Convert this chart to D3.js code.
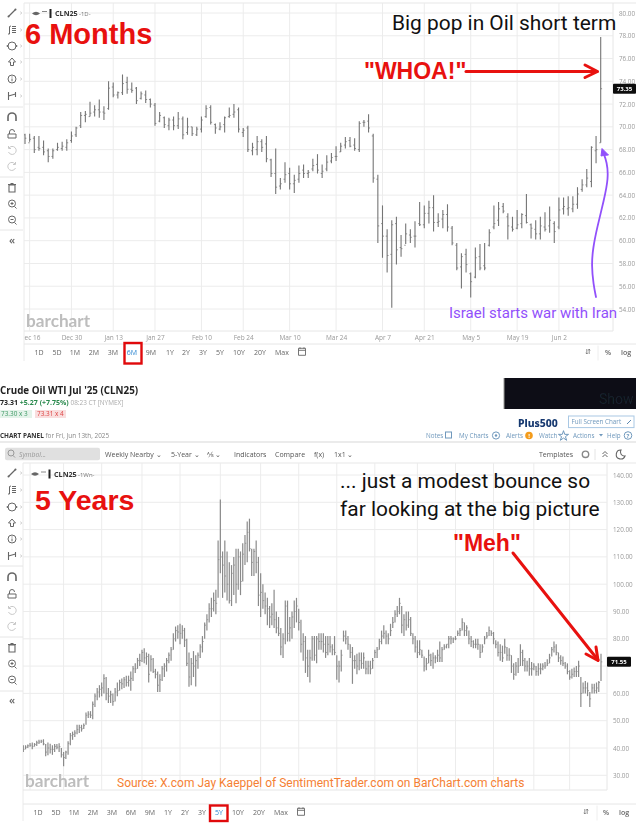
<!DOCTYPE html>
<html><head><meta charset="utf-8">
<script src="https://cdn.jsdelivr.net/npm/d3@7"></script>
<style>html,body{margin:0;padding:0;background:#fff}svg{display:block}text{white-space:pre}</style>
</head><body><svg id="c" width="636" height="825" viewBox="0 0 636 825"></svg>
<script>
// ---------- 6 month daily bars, CLN25 ----------
const highs6M=[69.4,69.4,69.2,69.2,68.8,68.1,68.1,68.6,68.7,68.9,
69.6,70,71.3,71.4,72.2,71.9,72.4,71.8,74,73.9,
73.1,74.6,74.4,73.9,73.5,73.1,73.2,72.5,72.1,71.3,
70.9,70.8,70.9,71.3,70.9,70.8,70,70,70.9,71.9,
71.9,70.3,70.4,70.9,71.7,72,71.7,69.9,70.1,68.6,
69.2,68.9,69.2,67.2,68.1,65.5,66.9,66.4,65.8,66.6,
66.7,66.2,67.2,67.6,66.7,67.5,67.7,68.3,68.6,69.1,
69.1,69,70.5,70.6,71.1,69.4,65.8,63.1,61,61.8,
62.1,60.5,61.5,61,61.7,63.4,63.1,63.5,64,62.4,
62.7,63.2,61.3,59.8,58.9,59.3,57.2,59.4,59.7,59.8,
61,63.1,63.4,63.3,62.4,62.1,62.7,62.4,64.1,61.5,
61.8,62.1,62.5,63,61.7,63.8,63.8,63.9,63.9,64.7,
65.4,66.3,68.3,69.2,77.9];
const lows6M=[68.5,68.7,67.7,67.9,67.5,66.9,67.2,67.9,67.9,67.9,
68.6,69.1,69.9,70.4,70.9,70.9,70.8,70.6,71.5,72.6,
72.5,72.8,72.9,73,72,72.4,72.1,71.7,70.1,70.4,
69.9,69.7,69.7,69.8,68.9,69.3,69.2,69.2,69.5,70.8,
70.2,69.4,69.7,69.5,70.8,70.8,69.5,69.1,67.8,67.5,
67.5,67.8,66.9,65.6,64.1,64.5,65.1,64.5,64.2,65.1,
65.5,65.5,66.1,65.9,65.5,66.1,66.8,67,67.8,68.1,
68.2,67.9,67.8,70,69.5,65.1,59.8,58.5,57.2,54.1,
57.9,58.6,59.7,59.8,59.4,61.3,61.1,61.5,60.8,61.2,
61.1,60.8,59.6,57.4,55.8,57.2,55,56.7,57.4,57.4,
59.5,61,61.3,62.4,60.1,60.8,61,61.1,61.5,60.2,
60.1,60.1,60.8,60.7,59.8,61,62.3,62.2,62.5,62.8,
64.3,64.7,64.7,66.8,68.6];
const closes6M=[69,68.9,68,68.1,67.8,67.4,67.9,68.2,68.3,68.6,
69.2,69.9,71,71.1,71.2,71.5,71.3,71.2,73.4,72.8,
73,73.8,73.3,73.2,72.3,72.9,72.4,72,70.3,71,
70.2,70.6,70.1,70.7,69.3,70,69.4,69.8,70.6,71.6,
70.4,69.9,70,70.8,71,71.3,69.8,69.7,68,68.2,
68.7,68.2,67.2,65.9,64.7,65,65.8,65,65.3,65.9,
65.9,66,66.6,66.2,66.1,66.9,67.3,67.4,68.3,68.7,
68.3,68.1,70.3,70.4,69.9,65.5,61.3,60.4,58.7,61.4,
59.2,59.3,60.6,60.3,60.4,61.4,62.4,62.9,61.6,61.7,
62.3,61.2,59.8,57.6,58.6,57.9,56.4,58.5,57.6,57.6,
60.7,61.5,62.8,62.6,61.3,61,61.4,62.3,61.6,61.1,
60.6,61.3,61,61.8,60.8,62.7,63,62.9,63.2,64.1,
64.9,65.5,68.2,68,73.35];
const opens6M=[69.3,68.6,69,68.2,68.2,67.9,67.4,68,68.1,68.2,
68.8,69.3,70.1,71,70.9,71.3,71.5,71.3,71.6,73.5,
72.8,73,73.9,73.3,73.4,72.5,72.8,72.4,71.9,70.5,
70.8,70.1,70.6,70.1,70.7,69.5,70,69.3,69.8,70.9,
71.7,70.2,69.8,70.2,70.9,71.1,71.5,69.5,69.9,67.9,
68,68.7,68.5,67.1,65.9,64.8,65.4,65.9,65,65.4,
66.2,65.9,66.3,66.7,65.9,66.3,67,67.4,67.8,68.4,
68.8,68.4,68,70.4,70.5,69.2,65.4,61.5,60.4,58.8,
61.5,59.4,59.6,60.5,60.4,61.5,61.4,62.4,62.9,61.6,
61.9,62.3,61.1,59.6,57.7,58.8,57.1,56.8,58.6,57.8,
59.6,61.2,61.8,63,62.1,61.2,61.1,61.5,62.2,61.4,
61,60.6,61.2,61.3,61.5,61.2,62.8,62.8,62.8,63.2,
64.5,64.9,65.2,67.9,68.6];
const ticks6M=["Dec 16","Dec 30","Jan 13","Jan 27","Feb 10","Feb 24","Mar 10","Mar 24","Apr 7","Apr 21","May 5","May 19","Jun 2"];
const tickBars6M=[1,10,19,28,38,47,57,67,77,86,96,106,115];
const priceTicks6M=[80,78,76,74,72,70,68,66,64,62,60,58,56,54];

// ---------- 5 year weekly bars, CLN25 ----------
const highs5Y=[41,41,41.3,41.8,42,41.8,42.7,43,43,43.2,
41.5,42,41.6,41,41.5,41.5,41.7,40,38.5,39,
42.5,45.5,46,46.5,48.5,48.5,48.5,49,53,53.5,
53.5,57,60,62,63,64,67,66,62,61,
60,62,64,65,65.5,66,66.5,66.5,68,70,
71,73,74.5,76,76.5,75,74.5,74,73,69,
68,67,70,71,73,75,77,82,84.5,85,
85.5,85,84,80,75,73,75.5,74,75,78,
81,86,89,93,95,97,98,116,131,112,
116,112,108,107,110,113,113,112,115,118,
123,124,113,113,116,110,104,100,97,95,
92,93,98,90,88,84,82,94,94,88,
90,94,95,91,87,82,81,76,76,81,
81,81,82,
82,82,81,81,81,78,81,74,72,76,
83,83,81,78,77,74,74.5,75,75,75,
72,72,72,73,76,77,80,83,85,83,
82,85.5,88,90.5,92,95,92,89,90,90,
88,82,81,79.5,79.5,76,73.5,73,76,74.5,
75,74,76,79,77,78,78,81,81,80.5,
81,83,84,87.5,86,85,83,81,79.5,80,
80,78,78,81,82.5,84.5,83,82.5,79.5,79,
78,77.5,80,77,76.5,74,71,71.5,73,78,
76,73,72,73,71.5,71,70,71,71,71,
71.5,72.5,74.5,77,79,78,75,74,73.5,71.5,
71,68.5,69,69.5,70,72,66,64,64.5,64,
60.5,63.5,63.5,64,64.5,74.5];
const lows5Y=[38.5,39.5,40,40.5,39.5,40.5,40.7,41.5,41.8,41,
37,37.3,38,37.5,38.5,39.5,38.5,36.5,33.3,36,
37.5,41,43,44,45,45.5,46,47,48.5,51,
51,50.5,55,57.5,58.5,59,60,57.5,56.5,56.5,
55.5,57,59,61,61.5,62,62.5,62.5,61,64.5,
67.5,69,70,71.5,71,70.5,64,68,67.5,65.5,
60.5,60.5,64.5,66,68,71,72,76,79,80,
78,80,77,70,62.4,63,66,62.5,69,73,
75,80,83,86,88,90,89,95,104,95,
97,94,92.9,92,96,93,98,96,101,107,
108,112,103,103,104,92,88,91,89,85,
84,85,84,82,81,74,73,78,79,79,
80,84,86,83,75,72,67.5,66,64,72,
72,71,76,
76,75,73,74,75,74,74,65,64,68,
79,78,76,73,63.5,69,67,68.5,69,69,
67,67,67,69,73,73,76,78,80,78,
78,81,84,86,88,89,82,81,83,84,
81,78,75,73,74,73,68,68.5,71,70,
69,71,71.5,71.5,71.5,76,76.5,76.5,78,78.5,
79.5,81,81,83,81,81,78,77,76.5,76.5,
76,73,75,78,80,81,81,78,76.5,73.5,
72,71.5,74.5,72,72,67.5,65,66.5,67.5,70,
70,68,68,66.5,66.5,68.5,66.5,66.5,67,68.5,
69,70,71,73.5,75,74,71.5,70.5,70,69,
67,65,65.5,66,66,66,55,60,60,59,
55,60,60,60,60.5,64.5];
const closes5Y=[39.5,40.3,40.8,41,40.6,41.3,41.9,42.2,42.5,41.5,
38.5,40,39.5,39.5,40.6,40.3,40.5,37.5,36.5,38.5,
41.7,44.5,45,45.5,46.8,47.5,47,48.2,52,52.4,
52,56,59,60.5,61.5,62,65.5,60,59,59.5,
57,60.5,61,64,63.5,65,64,64.8,65.5,69,
69,72,72,75,73,73.5,67,72.5,68,67,
63,65,69,70,72,74,76,80,83,82.5,
82,83,79.5,71,66,71,70,72,74,77,
79,85,87,91,91,94,93,109,110,107,
103,100,94,104,107,100,110,101,111,115,
119,113,108,112,108,96,97,94,92,91,
88,89,87,84,82,77,80,92,82,84,
88,90,92,86,78,79,73,70,73,80,
74,80,79,
79,78,75,78,77,76,75,70,70,74,
81,80,78,75,72,72,70,72,71,73,
69,70,69,72,75,76,79,81,82,81,
80,83,86,89,90,93,85,87,85,87,
82,80,77,75,76,74,70,71,74,72,
73,73,74,73,76,77,78,80,80,80,
80,82,83,86,83,84,80,79,78,78,
78,75,77,80,81,83,82,80,78,75,
75,73,77,74,74,70,67,70,70,75,
72,70,70,69,69,70,68,69,69,70,
70,71,73,76,77,75,73,72,71,70,
68,66,67,68,68,70,60,62,62,61,
58,62,61,62,64,71.55];
const ticks5Y=["Jul '20","Nov '20","Mar '21","Jul '21","Nov '21","Mar '22","Jul '22","Nov '22","Mar '23","Jul '23","Nov '23","Mar '24","Jul '24","Nov '24","Mar '25"];
const tickBars5Y=[3,18,35,53,70,88,106,123,140,157,176,193,210,228,244];
const priceTicks5Y=[140,130,120,110,100,90,80,70,60,50,40,30];
const hiddenLabels5Y=[70]; // sits behind the last-price tag in the reference

const rangeLabels=["1D","5D","1M","2M","3M","6M","9M","1Y","2Y","3Y","5Y","10Y","20Y","Max"];

const svg=d3.select("#c");
const defs=svg.append("defs");
defs.append("filter").attr("id","soft")
  .attr("filterUnits","userSpaceOnUse").attr("x",0).attr("y",0).attr("width",636).attr("height",825)
  .append("feGaussianBlur").attr("stdDeviation",0.45);
const base=svg.append("g").attr("filter","url(#soft)");
const UI="'Open Sans',sans-serif", RB="Roboto,sans-serif", AR="'Liberation Sans',Arial,sans-serif";
const iconC="#666";

function txt(g,x,y,s,o={}){
  return g.append("text").attr("x",x).attr("y",y).text(s)
   .attr("font-family",o.f||UI).attr("font-size",o.s||7).attr("fill",o.c||"#555")
   .attr("font-weight",o.w||400).attr("font-style",o.i||"normal").attr("text-anchor",o.a||"start");
}

function toolbar(g,ys,seps,chev){
  seps.forEach(y=>g.append("line").attr("x1",0).attr("x2",23).attr("y1",y).attr("y2",y).attr("stroke","#e6e6e6"));
  const P=(p,o={})=>p.append("path").attr("fill",o.fill||"none").attr("stroke",o.c||iconC).attr("stroke-width",o.w||1);
  const kinds=["line","fib","shape","arrow","info","fork","magnet","lock","undo","redo","trash","zin","zout"];
  kinds.forEach((k,i)=>{
    const t=g.append("g").attr("transform",`translate(12,${ys[i]})`);
    if(k=="line"){P(t,{w:1.2}).attr("d","M-3.5,3.5L3.5,-3.5");t.append("circle").attr("cx",3.5).attr("cy",-3.5).attr("r",1).attr("fill",iconC);t.append("circle").attr("cx",-3.5).attr("cy",3.5).attr("r",1).attr("fill",iconC);}
    if(k=="fib"){P(t).attr("d","M-4,4L-2.5,4L-2.5,-3.5L-1,-4M0,-3.5H4M0,-1.5H4M0,0.5H4M0,2.5H4");}
    if(k=="shape"){P(t).attr("d","M-4,0A4,4 0 1,1 4,0A4,4 0 1,1 -4,0");t.append("circle").attr("cx",-4.5).attr("cy",0).attr("r",0.9).attr("fill",iconC);t.append("circle").attr("cx",4.5).attr("cy",0).attr("r",0.9).attr("fill",iconC);}
    if(k=="arrow"){P(t).attr("d","M0,-4L3.5,0H1.5V3.5H-1.5V0H-3.5Z");}
    if(k=="info"){P(t).attr("d","M-4,0A4,4 0 1,1 4,0A4,4 0 1,1 -4,0M0,-0.5V2.3M0,-2.5V-1.5");}
    if(k=="fork"){P(t,{w:1.1}).attr("d","M-3.5,-4V4M3.5,-4V1M-3.5,0L3.5,-2");}
    if(k=="magnet"){P(t,{w:1.6}).attr("d","M-4,4V0A4,4 0 0,1 4,0V4");}
    if(k=="lock"){P(t).attr("d","M-4,0H4V4H-4ZM-2.5,0V-2A2.5,2.5 0 0,1 2.5,-2");}
    if(k=="undo"){P(t,{c:"#c8c8c8"}).attr("d","M-3,-2A4,4 0 1,1 -3.5,2M-3.5,-4V-1.5H-1");}
    if(k=="redo"){P(t,{c:"#c8c8c8"}).attr("d","M3,-2A4,4 0 1,0 3.5,2M3.5,-4V-1.5H1");}
    if(k=="trash"){P(t,{w:1.1}).attr("d","M-3,-3V4H3V-3ZM-4,-3.5H4M-1.5,-4.5H1.5");}
    if(k=="zin"||k=="zout"){P(t).attr("d","M-3.5,-0.5A3.5,3.5 0 1,1 3.5,-0.5A3.5,3.5 0 1,1 -3.5,-0.5M2.5,2.5L4.5,4.5M-1.5,-0.5H1.5"+(k=="zin"?"M0,-2V1":""));}
    if(i<chev) txt(g,20,ys[i]+2,"›",{s:7,c:"#aaa"});
  });
  txt(g,12,ys[13]+3,"«",{s:11,c:iconC,a:"middle",w:600});
}

function rangeBar(g,y,xs,active,calX,rightX){
  rangeLabels.forEach((l,i)=>txt(g,xs[i],y,l,{a:"middle",s:7,c:l==active?"#2e86d1":"#666"}));
  g.append("path").attr("fill","none").attr("stroke","#666").attr("stroke-width",0.9)
   .attr("d",`M${calX-3.5},${y-6.2}h7v7h-7zM${calX-3.5},${y-4.2}h7M${calX-2},${y-7.2}v1.5M${calX+2},${y-7.2}v1.5`);
  g.append("path").attr("fill","none").attr("stroke","#777").attr("stroke-width",0.8)
   .attr("d",`M${rightX[0]-1.2},${y-5.5}v5M${rightX[0]+1.2},${y-5.5}v5M${rightX[0]-2.2},${y-1.7}l1,1.2l1,-1.2M${rightX[0]+0.2},${y-4}l1,-1.5l1,1.5`);
  txt(g,rightX[1],y,"%",{a:"middle",s:7,c:"#666",w:600});
  txt(g,rightX[2],y,"log",{a:"middle",s:7,c:"#666",w:600});
  g.append("line").attr("x1",rightX[3]).attr("x2",rightX[3]).attr("y1",y-9).attr("y2",y+6).attr("stroke","#eee");
}

function chart(c){
  const g=base.append("g");
  const x=d3.scaleLinear().domain([0,c.highs.length-1]).range(c.xr);
  const y=d3.scaleLinear().domain(c.yd).range(c.yr);
  const clipId="clip"+c.id;
  defs.append("clipPath").attr("id",clipId).append("rect").attr("x",c.left).attr("y",c.top-14).attr("width",c.right-c.left).attr("height",c.bottom-c.top+26);
  // frame
  g.append("line").attr("x1",c.left).attr("x2",636).attr("y1",c.top).attr("y2",c.top).attr("stroke","#e8e8e8").attr("stroke-width",1.2);
  g.append("line").attr("x1",c.left).attr("x2",636).attr("y1",c.axisLine).attr("y2",c.axisLine).attr("stroke","#e6e6e6");
  g.append("line").attr("x1",c.left).attr("x2",c.left).attr("y1",c.top).attr("y2",c.axisLine+17).attr("stroke","#eaeaea");
  g.append("line").attr("x1",c.right).attr("x2",c.right).attr("y1",c.top).attr("y2",c.bottom).attr("stroke","#e6e6e6");
  g.append("line").attr("x1",c.left).attr("x2",c.right).attr("y1",c.bottom).attr("y2",c.bottom).attr("stroke","#e6e6e6");
  // grid via axes
  const shown=c.priceTicks.filter(d=>!(c.hidden||[]).includes(d));
  const gy=g.append("g").attr("transform",`translate(${c.right},0)`)
    .call(d3.axisRight(y).tickValues(shown).tickSize(0).tickPadding(c.labelPad).tickFormat(d3.format(".2f")));
  gy.select(".domain").remove();
  gy.selectAll("text").attr("font-family",UI).attr("font-size",6.3).attr("fill","#999");
  g.append("g").selectAll("line").data(c.priceTicks).join("line")
    .attr("x1",c.left).attr("x2",c.right).attr("y1",d=>y(d)).attr("y2",d=>y(d)).attr("stroke","#ececec").attr("stroke-width",1);
  g.append("g").selectAll("line").data(c.tickBars).join("line")
    .attr("x1",d=>x(d)).attr("x2",d=>x(d)).attr("y1",c.top).attr("y2",c.bottom).attr("stroke","#ececec").attr("stroke-width",1);
  const gx=g.append("g").attr("transform",`translate(0,${c.bottom})`).attr("clip-path",`url(#${clipId})`)
    .call(d3.axisBottom(x).tickValues(c.tickBars).tickSize(0).tickPadding(4).tickFormat((d,i)=>c.tickLabels[i]));
  gx.select(".domain").remove();
  gx.selectAll("text").attr("font-family",UI).attr("font-size",6.5).attr("fill","#999");
  // OHLC bars
  const bars=g.append("g").attr("stroke",c.color).attr("stroke-width",c.barW).attr("clip-path",`url(#${clipId})`);
  const idx=d3.range(c.highs.length);
  bars.selectAll(".hl").data(idx).join("line").attr("class","hl")
    .attr("x1",i=>x(i)).attr("x2",i=>x(i)).attr("y1",i=>y(c.highs[i])).attr("y2",i=>y(c.lows[i]));
  bars.selectAll(".cl").data(idx).join("line").attr("class","cl")
    .attr("x1",i=>x(i)).attr("x2",i=>x(i)+c.tick).attr("y1",i=>y(c.closes[i])).attr("y2",i=>y(c.closes[i])).attr("stroke-width",0.8);
  if(c.opens) bars.selectAll(".op").data(idx).join("line").attr("class","op")
    .attr("x1",i=>x(i)-c.tick).attr("x2",i=>x(i)).attr("y1",i=>y(c.opens[i])).attr("y2",i=>y(c.opens[i])).attr("stroke-width",0.8);
  // last price
  const last=c.closes[c.closes.length-1];
  g.append("rect").attr("x",c.tagX).attr("y",y(last)-5).attr("width",c.tagW).attr("height",10).attr("rx",1).attr("fill","#0c0c0c");
  txt(g,c.tagX+c.tagW/2,y(last)+2.2,last.toFixed(2),{a:"middle",s:6,c:"#fff",w:700});
  // watermark, symbol row
  txt(g,c.wmX,c.wmY,"barchart",{f:"Lato,sans-serif",s:17.2,c:"#bdbdbd",w:700});
  const r=c.symY;
  g.append("path").attr("fill",iconC).attr("d",`M${c.eye-4},${r}Q${c.eye},${r-3.5} ${c.eye+4},${r}Q${c.eye},${r+3.5} ${c.eye-4},${r}Z`);
  g.append("line").attr("x1",c.eye+6).attr("x2",c.eye+11).attr("y1",r-2).attr("y2",r-2).attr("stroke","#888");
  g.append("rect").attr("x",c.eye+13.5).attr("y",r-4.5).attr("width",2).attr("height",9).attr("fill","#222");
  txt(g,c.eye+19,r+2.5,"CLN25",{s:7.2,c:"#333",w:700});
  txt(g,c.eye+43,r+2.5,c.iv,{s:6,c:"#777"});
  toolbar(g,c.toolY,c.seps,6);
  rangeBar(g,c.rangeY,c.rangeX,c.active,c.calX,c.rightX);
}

chart({id:"a",highs:highs6M,lows:lows6M,closes:closes6M,opens:opens6M,priceTicks:priceTicks6M,tickBars:tickBars6M,tickLabels:ticks6M,
  xr:[25,600.7],yd:[80,54],yr:[13,309],left:24,right:613,top:3,bottom:331,axisLine:344,color:"#757575",barW:1.1,tick:1.4,labelPad:6,
  tagX:613,tagW:23,wmX:26,wmY:327,symY:13.5,eye:36,iv:"-1D-",
  toolY:[13,30,46,62,79,96,117,134,150,166,188,204,220,241],seps:[107,177,230],
  rangeY:354.5,rangeX:[39,57,75,94,113,132,151,170,186,203,220,239,260,282],active:"6M",calX:302,rightX:[588,608,626,598]});
chart({id:"b",highs:highs5Y,lows:lows5Y,closes:closes5Y,priceTicks:priceTicks5Y,tickBars:tickBars5Y,tickLabels:ticks5Y,hidden:hiddenLabels5Y,
  xr:[23.3,601],yd:[140,30],yr:[475,775.3],left:23,right:607,top:463,bottom:790,axisLine:804,color:"#8a8a8a",barW:1.2,tick:1.3,labelPad:6,
  tagX:607,tagW:24,wmX:25,wmY:787,symY:474,eye:35,iv:"-1Wn-",
  toolY:[473,490,507,523,539,556,577,594,610,626,648,664,680,701],seps:[566,637,691],
  rangeY:814.5,rangeX:[38,56,74,93,112,131,150,168,185,202,219,238,259,281],active:"5Y",calX:301,rightX:[586,606,624,597]});

// ---------- page header between the two charts ----------
const h=base.append("g");
txt(h,0,394,"Crude Oil WTI Jul '25 (CLN25)",{s:9.8,w:700,c:"#222"});
const q=h.append("text").attr("x",0).attr("y",405).attr("font-family",UI).attr("font-size",7);
q.append("tspan").text("73.31 ").attr("font-weight",700).attr("fill","#222");
q.append("tspan").text("+5.27 (+7.75%) ").attr("font-weight",700).attr("fill","#2a8a4e");
q.append("tspan").text("08:23 CT [NYMEX]").attr("fill","#aaa").attr("font-size",6.4);
h.append("rect").attr("x",0).attr("y",410).attr("width",32).attr("height",8).attr("fill","#e4f3ea");
txt(h,1,416.3,"73.30 x 3",{s:6.4,c:"#3f9a66"});
h.append("rect").attr("x",35).attr("y",410).attr("width",31).attr("height",8).attr("fill","#f9dede");
txt(h,37,416.3,"73.31 x 4",{s:6.4,c:"#d44"});
const p=h.append("text").attr("x",0).attr("y",438).attr("font-family",UI).attr("font-size",6.4);
p.append("tspan").text("CHART PANEL ").attr("font-weight",700).attr("fill","#333");
p.append("tspan").text("for Fri, Jun 13th, 2025").attr("fill","#888");
h.append("line").attr("x1",0).attr("x2",636).attr("y1",442).attr("y2",442).attr("stroke","#e4e4e4").attr("stroke-width",1.4);
h.append("rect").attr("x",5).attr("y",447.7).attr("width",95).attr("height",12.6).attr("rx",2).attr("fill","#e0e0e0");
h.append("path").attr("fill","none").attr("stroke","#999").attr("d","M8,453a3,3 0 1,1 6,0a3,3 0 1,1 -6,0M13,455.5l2,2");
txt(h,19,456.8,"Symbol...",{s:6.8,c:"#999",i:"italic"});
[["Weekly Nearby ⌄",105],["5-Year ⌄",171],["⅍ ⌄",207],["Indicators",234],["Compare",275],["f(x)",314],["1x1 ⌄",334],["Templates",539]]
  .forEach(d=>txt(h,d[1],456.8,d[0],{s:7,c:"#555"}));
h.append("circle").attr("cx",585.5).attr("cy",454.3).attr("r",3.2).attr("fill","none").attr("stroke","#888").attr("stroke-width",1.4);
h.append("line").attr("x1",595).attr("x2",595).attr("y1",449).attr("y2",460).attr("stroke","#e4e4e4");
h.append("path").attr("fill","none").attr("stroke","#666").attr("d","M602.5,454l2.5,-2.5l2.5,2.5M602.5,457l2.5,-2.5l2.5,2.5");
h.append("path").attr("fill","#fff").attr("stroke","#666").attr("stroke-width",1.1).attr("d","M621,450a4.5,4.5 0 1,0 4,6a4,4 0 0,1 -4,-6z");
// right link row
const blue="#6f98bc";
h.append("rect").attr("x",504).attr("y",378).attr("width",132).attr("height",31).attr("fill","#0e0f12");
h.append("line").attr("x1",504).attr("x2",504).attr("y1",378).attr("y2",409).attr("stroke","#999");
txt(h,599,404,"Show",{f:RB,s:14,c:"#15202e"});
txt(h,518,426.5,"Plus500",{s:10.4,c:"#16386f",w:800,f:"'Noto Sans',sans-serif"});
h.append("rect").attr("x",568.5).attr("y",416).attr("width",65.5).attr("height",11.6).attr("fill","#fff").attr("stroke","#a9c8e4");
txt(h,571.5,424,"Full Screen Chart",{s:6.3,c:"#6f98bc"});
h.append("path").attr("stroke","#5b88b0").attr("stroke-width",1).attr("d","M627,424l4,-4");
[["Notes",426],["My Charts",459],["Alerts",506],["Watch",539],["Actions",573],["Help",607]].forEach(d=>txt(h,d[1],438,d[0],{s:6.3,c:blue}));
h.append("rect").attr("x",445.5).attr("y",432).attr("width",6).attr("height",6).attr("fill","none").attr("stroke",blue);
h.append("circle").attr("cx",496).attr("cy",435.5).attr("r",3.6).attr("fill","none").attr("stroke",blue);
h.append("circle").attr("cx",496).attr("cy",435.5).attr("r",1.2).attr("fill",blue);
h.append("circle").attr("cx",529).attr("cy",435.5).attr("r",3.8).attr("fill","#f39c1f");
txt(h,529,438,"!",{a:"middle",s:6,c:"#fff",w:700});
h.append("path").attr("fill","none").attr("stroke",blue).attr("d",d3.symbol().type(d3.symbolStar).size(32)()).attr("transform","translate(563.5,436)");
h.append("path").attr("fill",blue).attr("d","M599,434h4l-2,2.6z");
h.append("circle").attr("cx",628).attr("cy",435.5).attr("r",3.8).attr("fill","none").attr("stroke",blue);
txt(h,628,438,"?",{a:"middle",s:6,c:blue,w:700});

// ---------- annotations on top, sharp ----------
const a=svg.append("g");
const RED="#e8110f", PURPLE="#9150fb";
txt(a,25,44,"6 Months",{f:AR,s:29,w:700,c:RED});
txt(a,35,510,"5 Years",{f:AR,s:28.5,w:700,c:RED});
txt(a,392,30,"Big pop in Oil short term",{f:RB,s:20.9,c:"#111"});
txt(a,364,78.5,'"WHOA!"',{f:AR,s:23,w:700,c:RED});
txt(a,340,488,"... just a modest bounce so",{f:RB,s:20.9,c:"#111"});
txt(a,340,516,"far looking at the big picture",{f:RB,s:20.9,c:"#111"});
txt(a,453,551,'"Meh"',{f:AR,s:23,w:700,c:RED});
txt(a,449,318,"Israel starts war with Iran",{f:RB,s:15,c:PURPLE});
txt(a,117,787,"Source: X.com Jay Kaeppel of SentimentTrader.com on BarChart.com charts",{f:RB,s:12,c:"#f57f33"});
const ar=(d,col,w)=>a.append("path").attr("d",d).attr("fill","none").attr("stroke",col).attr("stroke-width",w).attr("stroke-linecap","round").attr("stroke-linejoin","round");
ar("M466,71.5H597",RED,3);
ar("M585,65L597.5,71.5L585,77.5",RED,3);
ar("M513,553L598,660",RED,3);
ar("M586,654L598,660.5L596,647",RED,3);
const curve=d3.line().curve(d3.curveBasis);
ar(curve([[596,297],[593.5,285],[591.5,265],[593,248],[597,228],[604,200],[608.5,178],[607,162],[603,152]]),PURPLE,1.8);
a.append("path").attr("d","M602,148.5L608.5,155L603.5,155.5L601,156Z").attr("fill",PURPLE).attr("stroke",PURPLE).attr("stroke-linejoin","round");
// selected range boxes
a.append("rect").attr("x",124.5).attr("y",343).attr("width",17).attr("height",20.5).attr("fill","none").attr("stroke","#e0090b").attr("stroke-width",2.4);
a.append("rect").attr("x",210).attr("y",805.5).attr("width",17.5).attr("height",15.5).attr("fill","none").attr("stroke","#e0090b").attr("stroke-width",2.4);
</script></body></html>
